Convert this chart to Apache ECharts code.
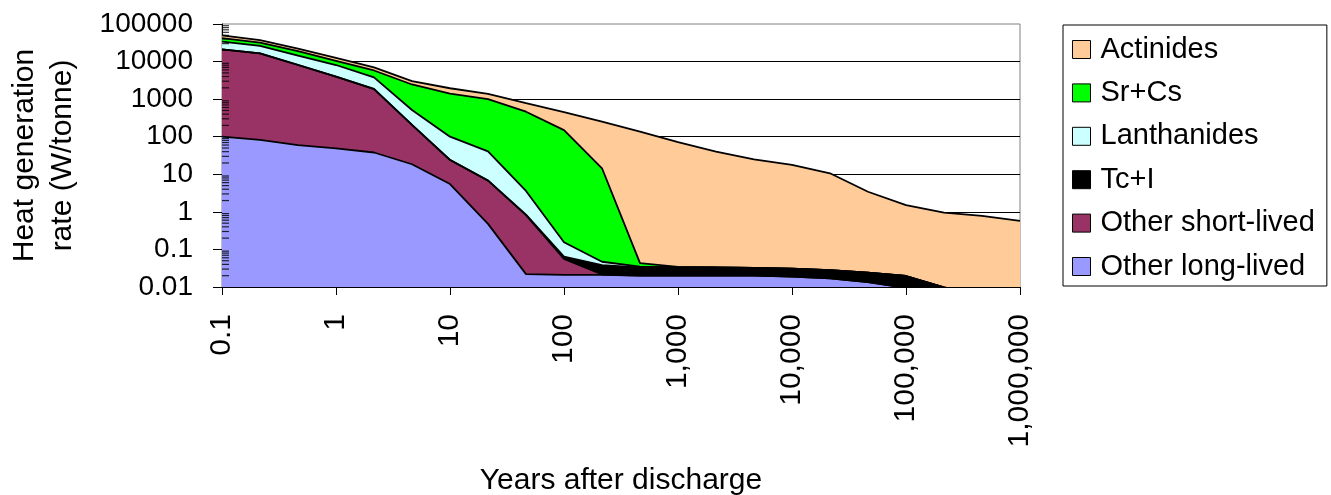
<!DOCTYPE html>
<html>
<head>
<meta charset="utf-8">
<script src="https://cdn.jsdelivr.net/npm/echarts@6/dist/echarts.min.js"></script>
<style>
  html, body { margin: 0; padding: 0; background: #fff; }
  #chart { width: 1331px; height: 495px; }
</style>
</head>
<body>
<div id="chart"></div>
<script>
// ---- Data ----
const years = [0.1, 0.2, 0.5, 1, 2, 5, 10, 20, 50, 100, 200, 500, 1000, 2000, 5000, 10000, 20000, 50000, 100000, 200000, 500000, 1000000];

// Heat generation rate, W/tonne (components, stacked from bottom to top)
const otherLongLived  = [100, 82, 60, 49, 38, 18.5, 5.5, 0.48, 0.022, 0.021, 0.021, 0.020, 0.020, 0.020, 0.020, 0.019, 0.017, 0.0135, 0.0095, 0.005, 0.003, 0.002];
const otherShortLived = [20900, 16400, 8040, 3910, 1820, 187, 18.5, 6.3, 0.8, 0.035, 0.0005, 0, 0, 0, 0, 0, 0, 0, 0, 0, 0, 0];
const tcI             = [200, 150, 80, 40, 18, 2, 0.3, 0.08, 0.02, 0.008, 0.0165, 0.013, 0.013, 0.013, 0.012, 0.012, 0.011, 0.0105, 0.0101, 0.0048, 0.003, 0.002];
const lanthanides     = [12800, 9370, 6320, 4100, 1920, 307, 76, 34, 2.76, 0.091, 0.009, 0.002, 0.0005, 0, 0, 0, 0, 0, 0, 0, 0, 0];
const srCs            = [8000, 6000, 4500, 2400, 2000, 1940, 1300, 960, 460, 150, 14.4, 0.008, 0.001, 0, 0, 0, 0, 0, 0, 0, 0, 0];
const actinides       = [8000, 5000, 3000, 2000, 1200, 550, 550, 380, 316, 300, 236, 136, 72, 40, 25, 17.7, 10.6, 3.4, 1.5, 0.95, 0.78, 0.57];

const yTickMin = 0.01;
const yTickMax = 100000;
const legendOrder = ['Actinides', 'Sr+Cs', 'Lanthanides', 'Tc+I', 'Other short-lived', 'Other long-lived'];

// ---- Styling ----
const FONT = '"Liberation Sans", Arial, sans-serif';
const layers = [
  { name: 'Other long-lived',  data: otherLongLived,  color: '#9999FF' },
  { name: 'Other short-lived', data: otherShortLived, color: '#993366' },
  { name: 'Tc+I',              data: tcI,             color: '#000000' },
  { name: 'Lanthanides',       data: lanthanides,     color: '#CCFFFF' },
  { name: 'Sr+Cs',             data: srCs,            color: '#00FF00' },
  { name: 'Actinides',         data: actinides,       color: '#FFCC99' }
];

// minor tick positions on the log axis (2..9 in every decade)
const minorTicks = [];
for (let e = Math.log10(yTickMin); e < Math.log10(yTickMax); e++) {
  for (let m = 2; m <= 9; m++) minorTicks.push(Number((m * Math.pow(10, e)).toPrecision(3)));
}

const series = [];
layers.forEach(l => {
  series.push({
    name: l.name, type: 'line', stack: 'heat', data: l.data,
    symbol: 'none', color: l.color,
    lineStyle: { width: 0, color: l.color },
    areaStyle: { color: l.color, opacity: 1 },
    itemStyle: { color: l.color },
    emphasis: { disabled: true }, silent: true, z: 2
  });
});
layers.forEach(l => {
  series.push({
    name: l.name + ' outline', type: 'line', stack: 'outline', data: l.data,
    symbol: 'none',
    lineStyle: { width: 1.8, color: '#000' },
    emphasis: { disabled: true }, silent: true, z: 3
  });
});
// inside minor tick marks of the log axis
series.push({
  name: 'minor ticks', type: 'scatter', data: minorTicks.map(v => [0, v]),
  symbol: 'rect', symbolSize: [7, 1.2], symbolOffset: [3.5, 0],
  itemStyle: { color: '#000' }, silent: true, z: 5, clip: false,
  emphasis: { disabled: true }
});

const chart = echarts.init(document.getElementById('chart'), null, { renderer: 'canvas' });
chart.setOption({
  animation: false,
  backgroundColor: '#fff',
  textStyle: { fontFamily: FONT },
  grid: { left: 222, top: 24, width: 798, height: 263, outerBoundsMode: 'none', containLabel: false,
          show: true, borderColor: '#808080', borderWidth: 1, backgroundColor: 'transparent' },
  legend: {
    orient: 'vertical', left: 1063, top: 25,
    data: legendOrder, icon: 'rect', itemWidth: 18, itemHeight: 18, itemGap: 14.4,
    padding: [10, 12, 5, 9], borderColor: '#000', borderWidth: 1,
    itemStyle: { borderColor: '#000', borderWidth: 1 },
    textStyle: { fontSize: 29, fontFamily: FONT, color: '#000', lineHeight: 29, padding: [0, 0, 0, 5] },
    selectedMode: false
  },
  xAxis: {
    type: 'category', data: years, boundaryGap: false,
    name: 'Years after discharge', nameLocation: 'middle', nameGap: 179,
    nameTextStyle: { fontSize: 30, color: '#000', fontFamily: FONT },
    axisLine: { show: true, lineStyle: { color: '#000', width: 1 } },
    axisTick: { show: true, interval: 2, length: 8, lineStyle: { color: '#000' } },
    axisLabel: {
      interval: 2, rotate: 90, margin: 27, fontSize: 30, color: '#000', fontFamily: FONT,
      formatter: v => Number(v).toLocaleString('en-US', { maximumFractionDigits: 3 })
    },
    splitLine: { show: false }
  },
  yAxis: {
    type: 'log', logBase: 10, min: yTickMin, max: yTickMax, splitNumber: 7,
    name: 'Heat generation\nrate (W/tonne)', nameLocation: 'middle', nameRotate: 90, nameGap: 140,
    nameTextStyle: { fontSize: 30, color: '#000', fontFamily: FONT, lineHeight: 38, align: 'center' },
    axisLine: { show: true, lineStyle: { color: '#000', width: 1 } },
    axisTick: { show: true, length: 9, lineStyle: { color: '#000' } },
    axisLabel: { fontSize: 28, color: '#000', margin: 29, fontFamily: FONT,
      formatter: v => String(Number(Number(v).toPrecision(6))) },
    splitLine: { show: true, showMinLine: false, showMaxLine: false, lineStyle: { color: '#000', width: 1 } }
  },
  series: series
});
</script>
</body>
</html>
